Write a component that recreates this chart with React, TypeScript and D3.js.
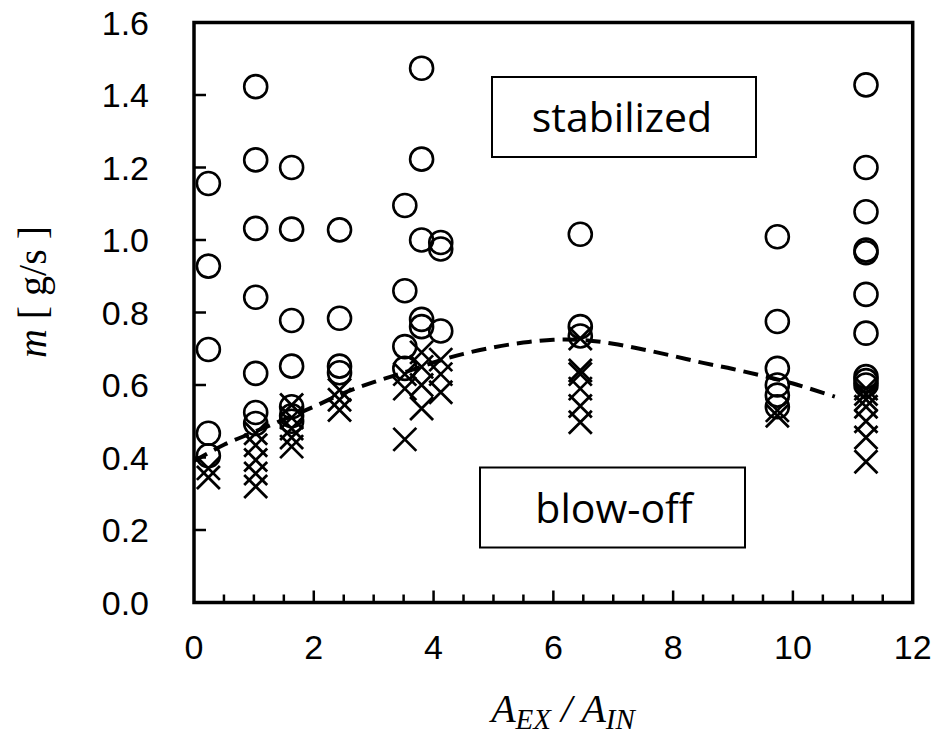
import React from "react";
import * as d3 from "d3";

// ---- data ----
const columnX = [0.24, 1.03, 1.63, 2.43, 3.52, 3.8, 4.12, 6.45, 9.74, 11.22];
const stabilizedY: number[][] = [
  [1.156, 0.928, 0.698, 0.467, 0.405],
  [1.423, 1.221, 1.032, 0.842, 0.632, 0.524, 0.494],
  [1.2, 1.03, 0.778, 0.652, 0.54, 0.515, 0.5],
  [1.028, 0.784, 0.652, 0.634],
  [1.095, 0.86, 0.706, 0.646],
  [1.474, 1.223, 1.0, 0.781, 0.761],
  [0.993, 0.975, 0.749],
  [1.016, 0.761, 0.735],
  [1.009, 0.775, 0.646, 0.6, 0.572, 0.54],
  [1.428, 1.2, 1.078, 0.972, 0.965, 0.85, 0.743, 0.623, 0.612, 0.6],
];
const blowoffY: number[][] = [
  [0.37, 0.345],
  [0.467, 0.434, 0.393, 0.356, 0.32],
  [0.545, 0.51, 0.48, 0.455, 0.43],
  [0.586, 0.559, 0.531],
  [0.63, 0.59, 0.45],
  [0.69, 0.65, 0.6, 0.535],
  [0.67, 0.63, 0.58],
  [0.728, 0.64, 0.63, 0.59, 0.542, 0.497],
  [0.53, 0.515],
  [0.59, 0.575, 0.56, 0.54, 0.5, 0.455, 0.388],
];
const boundaryX = [0, 0.5, 1.0, 1.5, 2.0, 2.5, 3.0, 3.5, 4.0, 4.5, 5.0, 5.5, 6.0, 6.5, 7.0, 7.5, 8.0, 8.5, 9.0, 9.5, 10.0, 10.7];
const boundaryY = [0.39, 0.435, 0.47, 0.505, 0.54, 0.578, 0.608, 0.634, 0.662, 0.686, 0.704, 0.717, 0.725, 0.724, 0.714, 0.698, 0.68, 0.661, 0.644, 0.625, 0.604, 0.568];
const xTickValues = [0, 2, 4, 6, 8, 10, 12];
const xTickLabels = ["0", "2", "4", "6", "8", "10", "12"];
const yTickValues = [0, 0.2, 0.4, 0.6, 0.8, 1.0, 1.2, 1.4, 1.6];
const yTickLabels = ["0.0", "0.2", "0.4", "0.6", "0.8", "1.0", "1.2", "1.4", "1.6"];

const W = 941;
const H = 738;

export default function App() {
  const x = d3.scaleLinear().domain([0, 12]).range([194, 912.7]);
  const y = d3.scaleLinear().domain([0, 1.6]).range([602.5, 22.5]);

  const minorX = d3.range(0.5, 12, 0.5);
  const line = d3
    .line<number>()
    .x((_, i) => x(boundaryX[i]))
    .y((d) => y(d))
    .curve(d3.curveCatmullRom.alpha(0.5));

  const circles: { cx: number; cy: number }[] = [];
  stabilizedY.forEach((col, i) =>
    col.forEach((v) => circles.push({ cx: x(columnX[i]), cy: y(v) }))
  );
  const crosses: { cx: number; cy: number }[] = [];
  blowoffY.forEach((col, i) =>
    col.forEach((v) => crosses.push({ cx: x(columnX[i]), cy: y(v) }))
  );
  const s = 11.5;

  return (
    <svg
      width={W}
      height={H}
      viewBox={`0 0 ${W} ${H}`}
      style={{ position: "absolute", left: 0, top: 0, background: "#fff" }}
    >
      <rect x={0} y={0} width={W} height={H} fill="#fff" />

      {/* labels boxes */}
      <rect x={492} y={77} width={264} height={80} fill="#fff" stroke="#000" strokeWidth={2} />
      <text x={622} y={132} textAnchor="middle" fontFamily="'Open Sans', sans-serif" fontSize={41} fill="#000">
        stabilized
      </text>
      <rect x={480} y={467.5} width={265} height={80} fill="#fff" stroke="#000" strokeWidth={2} />
      <text x={614} y={523} textAnchor="middle" fontFamily="'Open Sans', sans-serif" fontSize={41} fill="#000">
        blow-off
      </text>

      {/* boundary curve */}
      <path
        d={line(boundaryY) || ""}
        fill="none"
        stroke="#000"
        strokeWidth={4}
        strokeDasharray="15,8"
      />

      {/* markers */}
      {circles.map((c, i) => (
        <circle key={"c" + i} cx={c.cx} cy={c.cy} r={s} fill="none" stroke="#000" strokeWidth={2.6} />
      ))}
      {crosses.map((c, i) => (
        <path
          key={"x" + i}
          d={`M${c.cx - s},${c.cy - s}L${c.cx + s},${c.cy + s}M${c.cx - s},${c.cy + s}L${c.cx + s},${c.cy - s}`}
          stroke="#000"
          strokeWidth={2.8}
          fill="none"
        />
      ))}

      {/* frame */}
      <rect x={194} y={22.5} width={912.7 - 194} height={580} fill="none" stroke="#000" strokeWidth={3.5} />

      {/* x ticks */}
      {minorX.map((v) => (
        <line
          key={"mx" + v}
          x1={x(v)}
          x2={x(v)}
          y1={602.5}
          y2={602.5 - (v % 2 === 0 ? 12 : 8)}
          stroke="#000"
          strokeWidth={2.5}
        />
      ))}
      {xTickValues.map((v, i) => (
        <text
          key={"xl" + v}
          x={x(v)}
          y={659}
          textAnchor="middle"
          fontFamily="'Liberation Sans', Arial, sans-serif"
          fontSize={34}
          fill="#000"
        >
          {xTickLabels[i]}
        </text>
      ))}

      {/* y ticks */}
      {yTickValues.map((v, i) => (
        <g key={"y" + v}>
          {v > 0 && v < 1.6 && (
            <line x1={194} x2={206} y1={y(v)} y2={y(v)} stroke="#000" strokeWidth={2.5} />
          )}
          <text
            x={149}
            y={y(v) + 12}
            textAnchor="end"
            fontFamily="'Liberation Sans', Arial, sans-serif"
            fontSize={34}
            fill="#000"
          >
            {yTickLabels[i]}
          </text>
        </g>
      ))}

      {/* axis titles */}
      <text
        transform="translate(46,292) rotate(-90)"
        textAnchor="middle"
        fontFamily="'Liberation Serif', 'Times New Roman', serif"
        fontSize={40}
        fill="#000"
      >
        <tspan fontStyle="italic">m</tspan>
        <tspan> [ g/s ]</tspan>
      </text>
      <text
        x={563}
        y={722}
        textAnchor="middle"
        fontFamily="'Liberation Serif', 'Times New Roman', serif"
        fontSize={40}
        fontStyle="italic"
        fill="#000"
      >
        <tspan>A</tspan>
        <tspan fontSize={29} dy={7}>EX</tspan>
        <tspan dy={-7}> / A</tspan>
        <tspan fontSize={29} dy={7}>IN</tspan>
      </text>
    </svg>
  );
}
